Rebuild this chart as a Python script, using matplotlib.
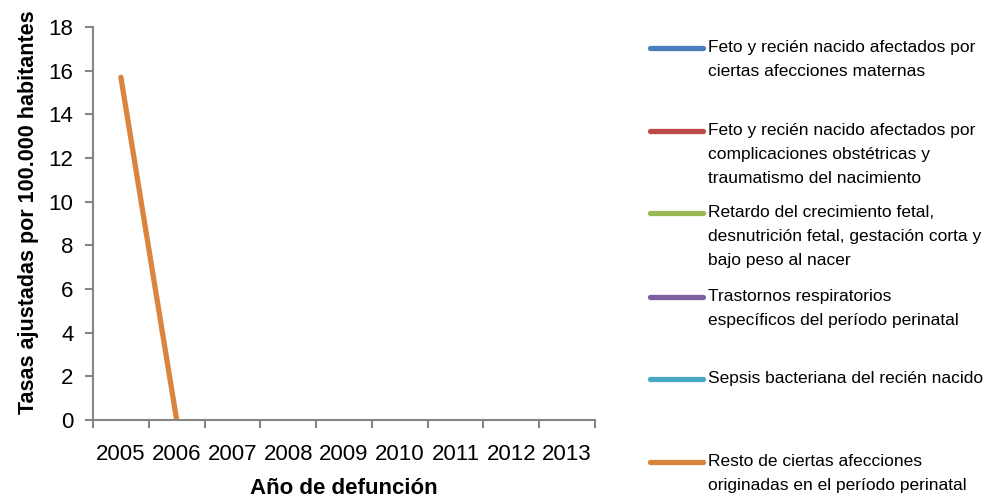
import matplotlib.pyplot as plt
import numpy as np
from matplotlib.lines import Line2D

plt.rcParams['font.family'] = ['Liberation Sans', 'DejaVu Sans']

years = ['2005', '2006', '2007', '2008', '2009', '2010', '2011', '2012', '2013']
nan = np.nan

# tasas ajustadas por 100.000 habitantes
materna = [nan] * 9
complicaciones = [nan] * 9
retardo = [nan] * 9
respiratorios = [nan] * 9
sepsis = [nan] * 9
resto = [15.7, 0, nan, nan, nan, nan, nan, nan, nan]

series = [materna, complicaciones, retardo, respiratorios, sepsis, resto]
labels = [
    'Feto y recién nacido afectados por\nciertas afecciones maternas',
    'Feto y recién nacido afectados por\ncomplicaciones obstétricas y\ntraumatismo del nacimiento',
    'Retardo del crecimiento fetal,\ndesnutrición fetal, gestación corta y\nbajo peso al nacer',
    'Trastornos respiratorios\nespecíficos del período perinatal',
    'Sepsis bacteriana del recién nacido',
    'Resto de ciertas afecciones\noriginadas en el período perinatal',
]
colors = ['#4A7EBB', '#BE4B48', '#98B954', '#7D60A0', '#46AAC5', '#DB843D']

fig = plt.figure(figsize=(9.85, 4.99), dpi=100)
ax = fig.add_axes([93 / 985, 1 - 420 / 499, (595 - 93) / 985, (420 - 27) / 499])

x = np.arange(len(years))
for vals, col in zip(series, colors):
    ax.plot(x, vals, color=col, lw=3.8, solid_capstyle='round')

ax.set_xlim(-0.5, len(years) - 0.5)
ax.set_ylim(0, 18)
ax.set_yticks(np.arange(0, 19, 2))
ax.set_xticks(np.arange(-0.5, len(years)), [''] * (len(years) + 1))
ax.set_xticks(x, years, minor=True)
ax.tick_params(axis='x', which='minor', length=0, pad=17, labelsize=16)
ax.tick_params(axis='x', which='major', length=6, color='#868686', width=1.5)
ax.tick_params(axis='y', length=6, color='#868686', width=1.5, labelsize=16, pad=8)
for s in ['top', 'right']:
    ax.spines[s].set_visible(False)
for s in ['left', 'bottom']:
    ax.spines[s].set_color('#868686')
    ax.spines[s].set_linewidth(1.5)

ax.set_xlabel('Año de defunción', fontsize=16, fontweight='bold', labelpad=10)
ax.set_ylabel('Tasas ajustadas por 100.000 habitantes', fontsize=15.5,
              fontweight='bold')
ax.yaxis.set_label_coords(-0.108, 0.53)

# legend drawn by hand so the line sits beside the first text line
tops = [48, 131, 213, 297, 379, 462]
for lab, col, yp in zip(labels, colors, tops):
    yf = 1 - yp / 499
    fig.add_artist(Line2D([650 / 985, 703 / 985], [yf, yf], color=col, lw=3.8,
                          solid_capstyle='round'))
    fig.text(708 / 985, 1 - (yp - 8) / 499, lab, fontsize=12.5, va='top',
             ha='left', linespacing=1.75)

fig.savefig('out.png', dpi=100)
